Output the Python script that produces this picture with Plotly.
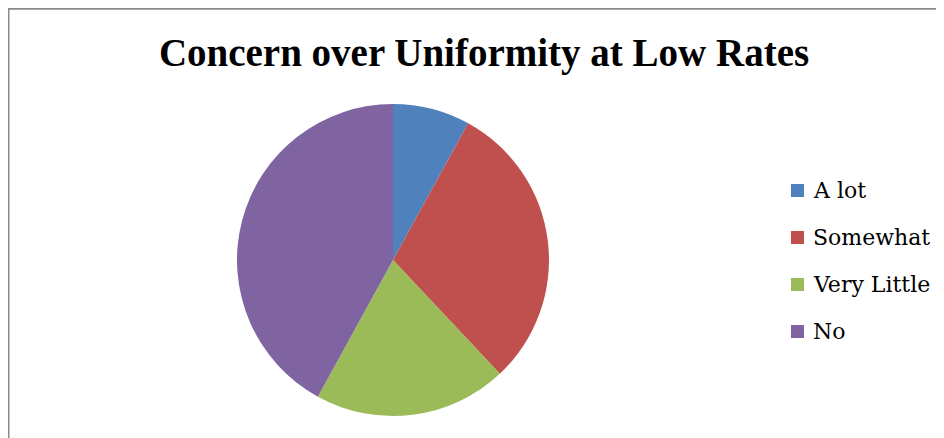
import plotly.graph_objects as go

labels = ["A lot", "Somewhat", "Very Little", "No"]
values = [8, 30, 20, 42]
colors = ["#4F81BD", "#C0504D", "#9BBB59", "#8064A2"]

W, H = 944, 438
OFF = 8  # page body margin offset

def px(x):
    return (x - OFF) / W

def py(y):
    return 1 - (y - OFF) / H

fig = go.Figure()
fig.add_trace(go.Pie(
    labels=labels, values=values, sort=False, direction="clockwise", rotation=0,
    marker=dict(colors=colors, line=dict(width=0)),
    textinfo="none", hoverinfo="label+value+percent",
    domain=dict(x=[px(237), px(549)], y=[py(416), py(104)]),
    showlegend=False,
))

shapes = [dict(type="rect", xref="paper", yref="paper",
               x0=0.5 / W, x1=1.2, y0=-0.2, y1=1 - 0.8 / H,
               line=dict(color="#8a8a8a", width=2), fillcolor="rgba(0,0,0,0)")]
annotations = []
y_first, step = 190.5, 47
for i, (lab, col) in enumerate(zip(labels, colors)):
    yc = y_first + i * step
    shapes.append(dict(type="rect", xref="paper", yref="paper",
                       x0=px(791), x1=px(804), y0=py(yc + 6.5), y1=py(yc - 6.5),
                       line=dict(width=0), fillcolor=col))
    annotations.append(dict(text=lab, xref="paper", yref="paper", x=px(811), y=py(yc),
                            xanchor="left", yanchor="middle", showarrow=False,
                            font=dict(family="DejaVu Serif", size=22, color="#000000")))

fig.update_layout(
    width=W, height=H, margin=dict(l=0, r=0, t=0, b=0),
    paper_bgcolor="white", plot_bgcolor="white",
    title=dict(text="<b>Concern over Uniformity at Low Rates</b>", x=px(484), xanchor="center",
               y=py(52), yanchor="middle", yref="paper",
               font=dict(family="Liberation Serif", size=39, color="#000000")),
    shapes=shapes, annotations=annotations,
)

fig.write_html("out.html")
